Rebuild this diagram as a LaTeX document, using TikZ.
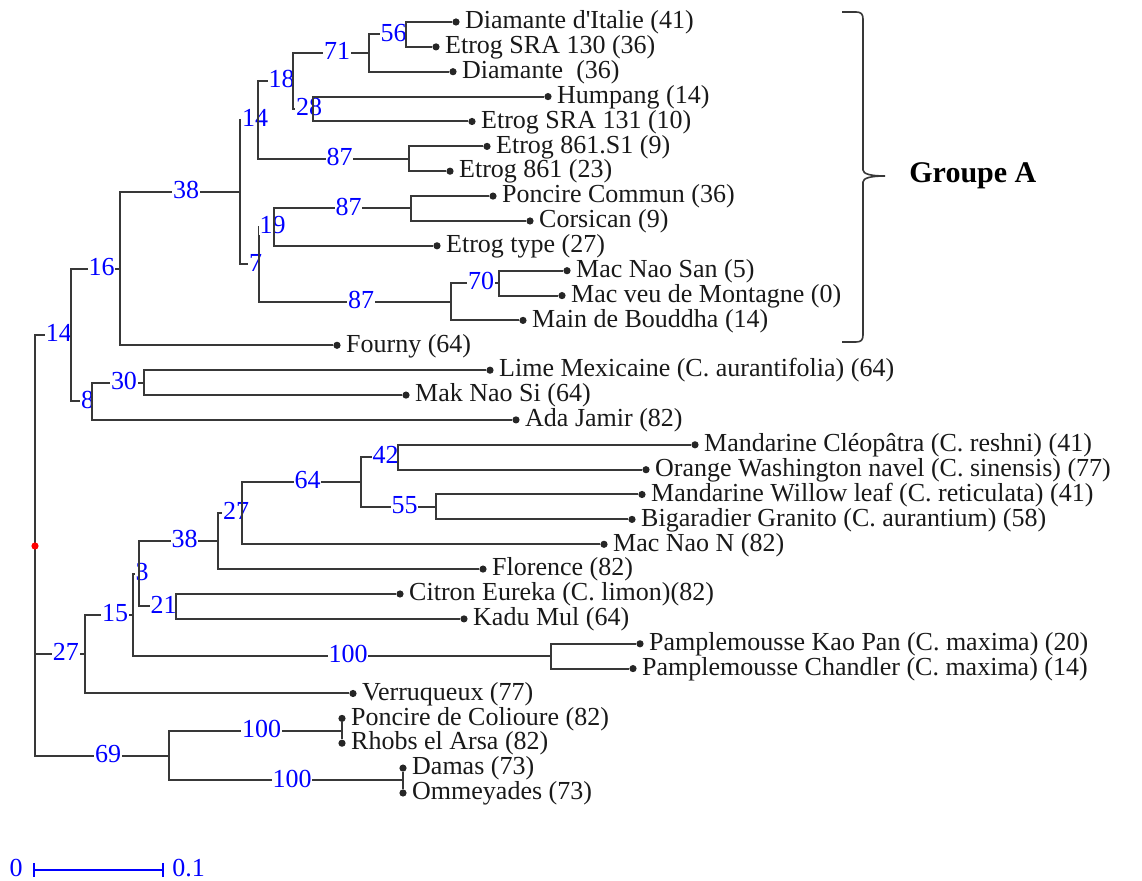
\documentclass[tikz,border=0pt]{standalone}
\usepackage{fontspec}
\setmainfont{Liberation Serif}
\usetikzlibrary{positioning}

\begin{document}
\begin{tikzpicture}[x=0.5pt, y=-0.5pt, node distance=0pt,
		font=\fontsize{13pt}{13pt}\selectfont,
		branch/.style={draw=black!78, line width=1pt},
		leaf/.style={circle, fill=black!85, inner sep=0pt, minimum size=3.6pt},
		taxon/.style={inner sep=2.4pt, text=black!90, text height=0.68em, text depth=0pt},
		boot/.style={pos=0.75, xshift=3pt, fill=white, inner sep=0.4pt, text=blue, text height=0.68em, text depth=0pt},
		scalebar/.style={draw=blue, line width=0.8pt}]

		\useasboundingbox (0,0) rectangle (1142,881);

		% leaves
		\node[leaf] (DiamItalie) at (456,22) {};
		\node[taxon, right=0pt of DiamItalie] (DiamItalieTxt) {Diamante d\textquotesingle Italie (41)};
		\node[leaf] (EtrogSRA130) at (436,46.9) {};
		\node[taxon, right=0pt of EtrogSRA130] (EtrogSRA130Txt) {Etrog SRA 130 (36)};
		\node[leaf] (Diamante) at (453,71.7) {};
		\node[taxon, right=0pt of Diamante] (DiamanteTxt) {Diamante\ \ (36)};
		\node[leaf] (Humpang) at (548,96.6) {};
		\node[taxon, right=0pt of Humpang] (HumpangTxt) {Humpang (14)};
		\node[leaf] (EtrogSRA131) at (472,121.5) {};
		\node[taxon, right=0pt of EtrogSRA131] (EtrogSRA131Txt) {Etrog SRA 131 (10)};
		\node[leaf] (EtrogS1) at (487,146.4) {};
		\node[taxon, right=0pt of EtrogS1] (EtrogS1Txt) {Etrog 861.S1 (9)};
		\node[leaf] (Etrog861) at (450,171.2) {};
		\node[taxon, right=0pt of Etrog861] (Etrog861Txt) {Etrog 861 (23)};
		\node[leaf] (PoncireCommun) at (493,196.1) {};
		\node[taxon, right=0pt of PoncireCommun] (PoncireCommunTxt) {Poncire Commun (36)};
		\node[leaf] (Corsican) at (530,221) {};
		\node[taxon, right=0pt of Corsican] (CorsicanTxt) {Corsican (9)};
		\node[leaf] (EtrogType) at (437,245.8) {};
		\node[taxon, right=0pt of EtrogType] (EtrogTypeTxt) {Etrog type (27)};
		\node[leaf] (MacNaoSan) at (567,270.7) {};
		\node[taxon, right=0pt of MacNaoSan] (MacNaoSanTxt) {Mac Nao San (5)};
		\node[leaf] (MacVeu) at (562,295.6) {};
		\node[taxon, right=0pt of MacVeu] (MacVeuTxt) {Mac veu de Montagne (0)};
		\node[leaf] (MainBouddha) at (523,320.4) {};
		\node[taxon, right=0pt of MainBouddha] (MainBouddhaTxt) {Main de Bouddha (14)};
		\node[leaf] (Fourny) at (337,345.3) {};
		\node[taxon, right=0pt of Fourny] (FournyTxt) {Fourny (64)};
		\node[leaf] (LimeMex) at (490,370.2) {};
		\node[taxon, right=0pt of LimeMex] (LimeMexTxt) {Lime Mexicaine (C. aurantifolia) (64)};
		\node[leaf] (MakNaoSi) at (406,395.1) {};
		\node[taxon, right=0pt of MakNaoSi] (MakNaoSiTxt) {Mak Nao Si (64)};
		\node[leaf] (AdaJamir) at (516,419.9) {};
		\node[taxon, right=0pt of AdaJamir] (AdaJamirTxt) {Ada Jamir (82)};
		\node[leaf] (MandCleo) at (695,444.8) {};
		\node[taxon, right=0pt of MandCleo] (MandCleoTxt) {Mandarine Cléopâtra (C. reshni) (41)};
		\node[leaf] (OrangeWash) at (646,469.7) {};
		\node[taxon, right=0pt of OrangeWash] (OrangeWashTxt) {Orange Washington navel (C. sinensis) (77)};
		\node[leaf] (MandWillow) at (642,494.5) {};
		\node[taxon, right=0pt of MandWillow] (MandWillowTxt) {Mandarine Willow leaf (C. reticulata) (41)};
		\node[leaf] (Bigaradier) at (632,519.4) {};
		\node[taxon, right=0pt of Bigaradier] (BigaradierTxt) {Bigaradier Granito (C. aurantium) (58)};
		\node[leaf] (MacNaoN) at (604,544.3) {};
		\node[taxon, right=0pt of MacNaoN] (MacNaoNTxt) {Mac Nao N (82)};
		\node[leaf] (Florence) at (483,569.1) {};
		\node[taxon, right=0pt of Florence] (FlorenceTxt) {Florence (82)};
		\node[leaf] (CitronEureka) at (400,594) {};
		\node[taxon, right=0pt of CitronEureka] (CitronEurekaTxt) {Citron Eureka (C. limon)(82)};
		\node[leaf] (KaduMul) at (464,618.9) {};
		\node[taxon, right=0pt of KaduMul] (KaduMulTxt) {Kadu Mul (64)};
		\node[leaf] (PampKaoPan) at (640,643.8) {};
		\node[taxon, right=0pt of PampKaoPan] (PampKaoPanTxt) {Pamplemousse Kao Pan (C. maxima) (20)};
		\node[leaf] (PampChandler) at (633,668.6) {};
		\node[taxon, right=0pt of PampChandler] (PampChandlerTxt) {Pamplemousse Chandler (C. maxima) (14)};
		\node[leaf] (Verruqueux) at (353,693.5) {};
		\node[taxon, right=0pt of Verruqueux] (VerruqueuxTxt) {Verruqueux (77)};
		\node[leaf] (PoncireColl) at (342,718.4) {};
		\node[taxon, right=0pt of PoncireColl] (PoncireCollTxt) {Poncire de Colioure (82)};
		\node[leaf] (Rhobs) at (342,743.2) {};
		\node[taxon, right=0pt of Rhobs] (RhobsTxt) {Rhobs el Arsa (82)};
		\node[leaf] (Damas) at (403,768.1) {};
		\node[taxon, right=0pt of Damas] (DamasTxt) {Damas (73)};
		\node[leaf] (Ommeyades) at (403,793) {};
		\node[taxon, right=0pt of Ommeyades] (OmmeyadesTxt) {Ommeyades (73)};

		% internal nodes
		\coordinate (Root) at (35,546);
		\coordinate (N14) at (71,335);
		\coordinate (N16) at (120,268.7);
		\coordinate (N38i) at (240,192.2);
		\coordinate (N14i) at (258,119.9);
		\coordinate (N18) at (293,81);
		\coordinate (N71) at (369,53.1);
		\coordinate (N56) at (406,34.4);
		\coordinate (N28) at (313,109);
		\coordinate (N87e) at (409,158.8);
		\coordinate (N7) at (259,264.5);
		\coordinate (N19) at (274,227.2);
		\coordinate (N87p) at (411,208.5);
		\coordinate (N87m) at (451,301.8);
		\coordinate (N70) at (499,283.1);
		\coordinate (N8) at (92,401.3);
		\coordinate (N30) at (144,382.6);
		\coordinate (N27) at (85,654.2);
		\coordinate (N15) at (133,615);
		\coordinate (N3) at (139,573.8);
		\coordinate (N38) at (218,541.2);
		\coordinate (N27i) at (242,513.2);
		\coordinate (N64) at (361,482.1);
		\coordinate (N42) at (398,457.2);
		\coordinate (N55) at (436,507);
		\coordinate (N21) at (176,606.4);
		\coordinate (N100p) at (551,656.2);
		\coordinate (N69) at (169,755.7);
		\coordinate (N100c) at (342,730.8);
		\coordinate (N100d) at (403,780.5);

		% upper clade
		\draw[branch] (Root) |- node[boot] {14} (N14);
		\draw[branch] (N14) |- node[boot] {16} (N16);
		\draw[branch] (N16) |- node[boot] {38} (N38i);
		\draw[branch] (N38i) |- node[boot] {14} (N14i);
		\draw[branch] (N14i) |- node[boot] {18} (N18);
		\draw[branch] (N18) |- node[boot] {71} (N71);
		\draw[branch] (N71) |- node[boot] {56} (N56);
		\draw[branch] (N56) |- (DiamItalie);
		\draw[branch] (N56) |- (EtrogSRA130);
		\draw[branch] (N71) |- (Diamante);
		\draw[branch] (N18) |- node[boot] {28} (N28);
		\draw[branch] (N28) |- (Humpang);
		\draw[branch] (N28) |- (EtrogSRA131);
		\draw[branch] (N14i) |- node[boot] {87} (N87e);
		\draw[branch] (N87e) |- (EtrogS1);
		\draw[branch] (N87e) |- (Etrog861);
		\draw[branch] (N38i) |- node[boot] {7} (N7);
		\draw[branch] (N7) |- node[boot] {19} (N19);
		\draw[branch] (N19) |- node[boot] {87} (N87p);
		\draw[branch] (N87p) |- (PoncireCommun);
		\draw[branch] (N87p) |- (Corsican);
		\draw[branch] (N19) |- (EtrogType);
		\draw[branch] (N7) |- node[boot] {87} (N87m);
		\draw[branch] (N87m) |- node[boot] {70} (N70);
		\draw[branch] (N70) |- (MacNaoSan);
		\draw[branch] (N70) |- (MacVeu);
		\draw[branch] (N87m) |- (MainBouddha);
		\draw[branch] (N16) |- (Fourny);
		\draw[branch] (N14) |- node[boot] {8} (N8);
		\draw[branch] (N8) |- node[boot] {30} (N30);
		\draw[branch] (N30) |- (LimeMex);
		\draw[branch] (N30) |- (MakNaoSi);
		\draw[branch] (N8) |- (AdaJamir);

		% middle clade
		\draw[branch] (Root) |- node[boot] {27} (N27);
		\draw[branch] (N27) |- node[boot] {15} (N15);
		\draw[branch] (N15) |- node[boot] {3} (N3);
		\draw[branch] (N3) |- node[boot] {38} (N38);
		\draw[branch] (N38) |- node[boot] {27} (N27i);
		\draw[branch] (N27i) |- node[boot] {64} (N64);
		\draw[branch] (N64) |- node[boot] {42} (N42);
		\draw[branch] (N42) |- (MandCleo);
		\draw[branch] (N42) |- (OrangeWash);
		\draw[branch] (N64) |- node[boot] {55} (N55);
		\draw[branch] (N55) |- (MandWillow);
		\draw[branch] (N55) |- (Bigaradier);
		\draw[branch] (N27i) |- (MacNaoN);
		\draw[branch] (N38) |- (Florence);
		\draw[branch] (N3) |- node[boot] {21} (N21);
		\draw[branch] (N21) |- (CitronEureka);
		\draw[branch] (N21) |- (KaduMul);
		\draw[branch] (N15) |- node[boot] {100} (N100p);
		\draw[branch] (N100p) |- (PampKaoPan);
		\draw[branch] (N100p) |- (PampChandler);
		\draw[branch] (N27) |- (Verruqueux);

		% lower clade
		\draw[branch] (Root) |- node[boot] {69} (N69);
		\draw[branch] (N69) |- node[boot] {100} (N100c);
		\draw[branch] (PoncireColl) -- (Rhobs);
		\draw[branch] (N69) |- node[boot] {100} (N100d);
		\draw[branch] (Damas) -- (Ommeyades);

		\node[circle, fill=red, inner sep=0pt, minimum size=3.6pt] (RootDot) at (Root) {};

		% group brace
		\coordinate (BrTop) at (842,12);
		\coordinate (BrTip) at (885,176);
		\coordinate (BrBot) at (842,342);
		\draw[draw=black!78, line width=0.8pt] (BrTop) -- (856,12) .. controls (861,12) and (863,14) .. (863,19)
			-- (863,170) .. controls (863,174) and (871,176) .. (BrTip)
			.. controls (871,176) and (863,178) .. (863,182)
			-- (863,335) .. controls (863,340) and (861,342) .. (856,342) -- (BrBot);
		\node[font=\fontsize{15pt}{15pt}\selectfont\bfseries, inner sep=0pt, right=12pt of BrTip] (GroupeA) {Groupe A};

		% scale
		\coordinate (SbA) at (34,870);
		\coordinate (SbB) at (163,870);
		\draw[scalebar] (SbA) -- (SbB);
		\draw[scalebar] ([yshift=3.5pt]SbA) -- ([yshift=-3.5pt]SbA);
		\draw[scalebar] ([yshift=3.5pt]SbB) -- ([yshift=-3.5pt]SbB);
		\node[text=blue, inner sep=0pt, text height=0.68em, text depth=0pt, left=5.5pt of SbA] (ScaleZero) {0};
		\node[text=blue, inner sep=0pt, text height=0.68em, text depth=0pt, right=4.5pt of SbB] (ScaleTenth) {0.1};

	\end{tikzpicture}
\end{document}
